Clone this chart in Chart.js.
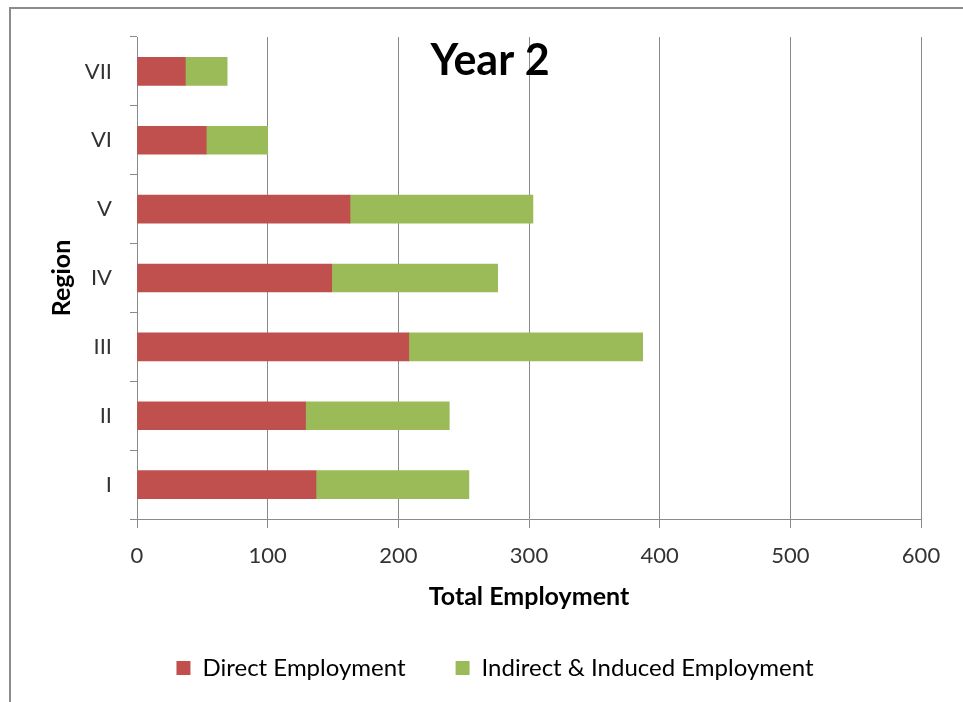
<!DOCTYPE html>
<html>
<head>
<meta charset="utf-8">
<script src="https://cdn.jsdelivr.net/npm/chart.js@4.4.1/dist/chart.umd.min.js"></script>
<style>
  body { margin: 0; background: #fff; }
  #wrap { position: relative; width: 963px; height: 702px; overflow: hidden; }
  #frame-top { position: absolute; left: 9px; top: 7px; width: 954px; height: 2px; background: #8c8c8c; }
  #frame-left { position: absolute; left: 9px; top: 7px; width: 2px; height: 695px; background: #8c8c8c; }
  canvas { position: absolute; left: 0; top: 0; }
</style>
</head>
<body>
<div id="wrap">
  <div id="frame-top"></div>
  <div id="frame-left"></div>
  <canvas id="chart" width="963" height="702"></canvas>
</div>
<script>
// Regions, bottom to top
const regions = ['I', 'II', 'III', 'IV', 'V', 'VI', 'VII'];

// Employment per region
const directEmployment = [137, 129, 208, 149, 163, 53, 37];
const indirectEmployment = [117, 110, 179, 127, 140, 47, 32];

// Axis ticks
const xTicks = [0, 100, 200, 300, 400, 500, 600];

const chartTitle = 'Year 2';
const gridColor = '#8a8a8a';
const fontFamily = 'Lato, "Open Sans", sans-serif';

// Draws the title inside the plot area, like the original
const titleInside = {
  id: 'titleInside',
  afterDraw(chart) {
    const ctx = chart.ctx;
    ctx.save();
    ctx.font = 'bold 43px ' + fontFamily;
    ctx.fillStyle = '#000';
    ctx.textAlign = 'center';
    ctx.textBaseline = 'alphabetic';
    ctx.fillText(chartTitle, 490, 75);
    ctx.restore();
  }
};

const ctx = document.getElementById('chart').getContext('2d');
new Chart(ctx, {
  type: 'bar',
  data: {
    labels: regions,
    datasets: [
      {
        label: 'Direct Employment',
        data: directEmployment,
        backgroundColor: '#C0504D',
        borderWidth: 0,
        barThickness: 28
      },
      {
        label: 'Indirect & Induced Employment',
        data: indirectEmployment,
        backgroundColor: '#9BBB59',
        borderWidth: 0,
        barThickness: 28
      }
    ]
  },
  options: {
    indexAxis: 'y',
    responsive: false,
    animation: false,
    devicePixelRatio: 1,
    layout: {
      padding: { left: 69, right: 42, top: 37, bottom: 12 }
    },
    scales: {
      x: {
        stacked: true,
        min: 0,
        max: 600,
        afterBuildTicks: (scale) => {
          scale.ticks = xTicks.map(v => ({ value: v }));
        },
        afterFit: (scale) => { scale.height = 87; },
        grid: { color: gridColor, lineWidth: 1, tickLength: 9 },
        border: { color: gridColor, width: 1 },
        ticks: {
          color: '#333',
          padding: 15,
          maxRotation: 0,
          font: { family: fontFamily, size: 22 }
        },
        title: {
          display: true,
          text: 'Total Employment',
          color: '#000',
          padding: { top: 0, bottom: -6 },
          font: { family: fontFamily, size: 25, weight: 'bold' }
        }
      },
      y: {
        stacked: true,
        reverse: true,
        afterFit: (scale) => { scale.width = 68; },
        grid: { color: gridColor, drawOnChartArea: false, tickLength: 7, offset: true },
        border: { color: gridColor, width: 1 },
        ticks: {
          color: '#333',
          padding: 18,
          font: { family: fontFamily, size: 22 }
        },
        title: {
          display: true,
          text: 'Region',
          color: '#000',
          padding: { top: -22, bottom: 0 },
          font: { family: fontFamily, size: 25, weight: 'bold' }
        }
      }
    },
    plugins: {
      title: { display: false },
      tooltip: { enabled: false },
      legend: {
        position: 'bottom',
        labels: {
          boxWidth: 14,
          boxHeight: 14,
          padding: 50,
          color: '#000',
          font: { family: fontFamily, size: 24 }
        }
      }
    }
  },
  plugins: [titleInside]
});
</script>
</body>
</html>
